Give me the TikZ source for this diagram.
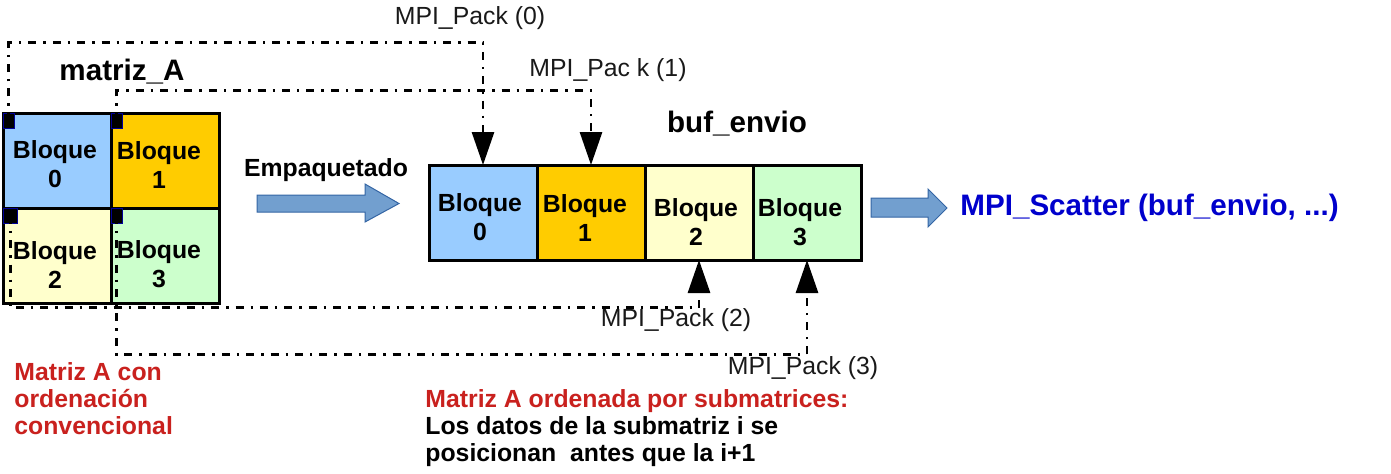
\documentclass[tikz,border=0pt]{standalone}
\usepackage{fontspec}
\setmainfont{Liberation Sans}
\usetikzlibrary{positioning}
\usetikzlibrary{arrows.meta}

\definecolor{azul}{HTML}{99CCFF}
\definecolor{naranja}{HTML}{FFCC00}
\definecolor{amarillo}{HTML}{FFFFCC}
\definecolor{verde}{HTML}{CCFFCC}
\definecolor{flecha}{HTML}{729FCF}
\definecolor{bordeflecha}{HTML}{3465A4}
\definecolor{rojo}{HTML}{C9211E}
\definecolor{azulosc}{HTML}{0000CC}

% block text: number, strut height (moves text down), right space (moves text left)
\newcommand{\bloq}[3]{\rule{0pt}{#2}Bloque\hspace*{#3}\\#1\hspace*{#3}}

\tikzset{
  bloque/.style={draw, line width=1.5pt, minimum width=54pt, minimum height=47.5pt,
    outer sep=0pt, inner sep=0pt, align=center,
    font=\fontsize{12.4}{14.5}\selectfont\bfseries},
  marca/.style={fill=black, draw=blue!60!black, line width=0.3pt,
    minimum width=5.5pt, minimum height=7.5pt, inner sep=0pt, anchor=north west},
  paquete/.style={line width=1.4pt, dash pattern=on 4pt off 3.5pt on 1.2pt off 3.5pt,
    -{Triangle[length=16.5pt, width=11pt]}},
  etiqueta/.style={font=\fontsize{12.4}{14.5}\selectfont, text=black!90},
  titulo/.style={font=\fontsize{14.8}{17}\selectfont\bfseries},
  gorda/.style={fill=flecha, draw=bordeflecha, line width=0.5pt},
  nota/.style={anchor=north west, align=left, inner sep=0pt,
    font=\fontsize{12.4}{13.5}\selectfont\bfseries},
}

\begin{document}
\begin{tikzpicture}[x=0.5pt, y=-0.5pt]
  \useasboundingbox (0,0) rectangle (1391,473);

  % matriz_A
  \node[bloque, fill=azul] (a0) at (57,160.5) {\bloq{0}{13pt}{2pt}};
  \node[bloque, fill=naranja, right=0pt of a0] (a1) {\bloq{1}{13pt}{6pt}};
  \node[bloque, fill=amarillo, below=0pt of a0] (a2) {\bloq{2}{18pt}{2pt}};
  \node[bloque, fill=verde, right=0pt of a2] (a3) {\bloq{3}{18pt}{6pt}};
  \node[titulo] (titA) at (122,72) {matriz\_A};

  % buf_envio
  \node[bloque, fill=azul] (b0) at (483,212.5) {\bloq{0}{14pt}{3pt}};
  \node[bloque, fill=naranja, right=0pt of b0] (b1) {\bloq{1}{14pt}{6pt}};
  \node[bloque, fill=amarillo, right=0pt of b1] (b2) {\bloq{2}{18.5pt}{3pt}};
  \node[bloque, fill=verde, right=0pt of b2] (b3) {\bloq{3}{18.5pt}{7pt}};
  \node[titulo] (titbuf) at (737,124) {buf\_envio};

  % Empaquetado
  \node[font=\fontsize{12.4}{14.5}\selectfont\bfseries] (emp) at (326,170) {Empaquetado};
  \draw[gorda] (257,195) -- (365,195) -- (365,184) -- (399,203.5)
    -- (365,222) -- (365,212) -- (257,212) -- cycle;

  % Scatter
  \draw[gorda] (871,198) -- (928,198) -- (928,189) -- (947,208)
    -- (928,227) -- (928,217) -- (871,217) -- cycle;
  \node[anchor=west, inner sep=0pt, text=azulosc, titulo] (scatter) at (960,208)
    {MPI\_Scatter (buf\_envio, ...)};

  % markers
  \node[marca] (m0) at (a0.north west) {};
  \node[marca] (m1) at (a1.north west) {};
  \node[marca, minimum width=7pt] (m2) at (a2.north west) {};
  \node[marca] (m3) at (a3.north west) {};

  % MPI_Pack
  \draw[paquete] (m0.center) -- ++(0,-78) -| (b0.north);
  \draw[paquete] (m1.center) -- ++(0,-30) -| (b1.north);
  \draw[paquete] (m2.center) -- ++(0,92) -| (b2.south);
  \draw[paquete] (m3.center) -- ++(0,139) -| (b3.south);
  \node[etiqueta] (p0) at (470,18) {MPI\_Pack (0)};
  \node[etiqueta] (p1) at (608,70) {MPI\_Pac k (1)};
  \node[etiqueta] (p2) at (676,320) {MPI\_Pack (2)};
  \node[etiqueta] (p3) at (803,368) {MPI\_Pack (3)};

  % notes
  \node[nota, text=rojo] (conv) at (14,362) {Matriz A con\\ordenación\\convencional};
  \node[nota] (orden) at (425,389)
    {\textcolor{rojo}{Matriz A ordenada por submatrices:}\\
     Los datos de la submatriz i se\\posicionan\ \ antes que la i+1};

\end{tikzpicture}
\end{document}
